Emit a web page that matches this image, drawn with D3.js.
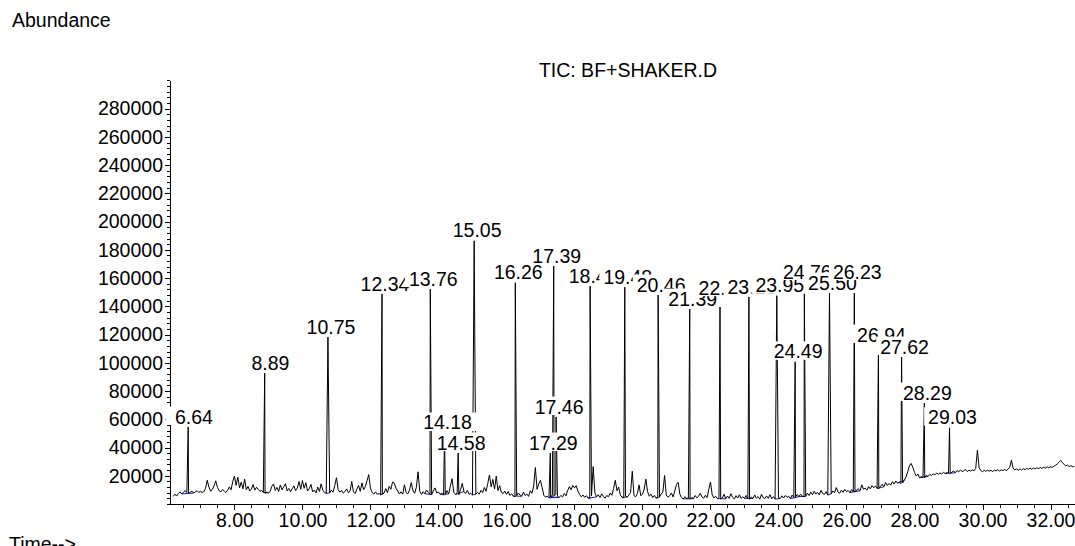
<!DOCTYPE html>
<html><head><meta charset="utf-8">
<script src="https://cdn.jsdelivr.net/npm/d3@7"></script>
<style>
html,body{margin:0;padding:0;background:#fff;}
svg{display:block;background:#fff;}
text{font-family:"Liberation Sans",Arial,sans-serif;fill:#000;}
</style></head><body>
<svg id="chart" width="1075" height="546"></svg>
<script>
// ---------------- data ----------------
const chartTitle = "TIC: BF+SHAKER.D";
const yAxisTitle = "Abundance";
const xAxisTitle = "Time-->";

// background signal (thousands of counts), sampled every 0.05 min from 6.20 min
const signalStart = 6.20;
const signalStep = 0.05;
const baselineSignal = [
  5.4,6.9,5.6,7.4,8.6,7.1,8.3,9.5,8.0,7.6,8.3,9.1,7.8,8.6,9.4,8.2,
  9.0,8.2,8.7,11.0,16.8,12.0,9.1,10.2,12.9,16.4,11.8,9.4,8.5,10.3,9.2,8.1,9.8,12.1,10.0,15.8,
  19.8,13.2,19.0,11.4,15.5,10.8,17.6,10.1,12.4,9.2,10.6,13.8,9.8,11.9,10.4,9.0,9.6,8.1,7.6,8.4,
  7.9,8.8,12.6,14.2,9.6,11.8,8.9,13.5,10.0,12.2,14.4,9.3,11.0,8.6,10.9,12.8,9.5,11.3,15.9,10.4,
  16.6,11.1,15.1,9.2,10.8,13.9,8.6,9.9,7.8,12.0,8.9,14.3,9.7,8.2,7.5,7.0,7.9,9.8,8.4,13.0,
  18.6,10.2,8.4,9.6,7.7,8.8,10.7,8.0,9.1,16.0,8.6,7.4,10.5,13.2,9.0,14.9,10.1,12.4,16.5,20.8,
  11.2,8.1,7.0,8.6,6.8,7.5,6.4,6.9,7.8,10.9,8.0,12.5,10.4,15.6,14.8,11.3,9.2,7.1,8.6,6.9,
  13.6,8.0,7.2,10.1,15.2,9.4,7.6,11.8,22.8,9.0,6.8,8.7,7.3,9.9,8.2,7.0,6.6,9.3,11.4,7.8,
  8.5,6.9,7.7,6.2,6.8,9.5,7.1,12.6,17.9,8.4,6.7,7.9,6.5,10.2,14.6,8.8,7.4,9.6,6.9,7.6,
  6.4,6.3,6.9,8.2,7.0,9.6,8.1,11.7,9.0,14.5,20.6,12.1,17.4,10.6,19.8,9.5,13.0,8.2,7.4,9.1,
  6.8,8.9,6.1,7.2,5.6,5.2,5.9,7.8,6.3,5.5,8.4,6.0,7.1,5.4,9.3,7.6,12.8,25.8,10.4,14.2,
  16.8,11.5,6.2,4.8,5.6,4.4,5.0,6.4,5.9,6.8,5.2,4.6,6.1,5.0,7.4,5.8,9.6,12.3,10.1,13.2,
  11.4,13.0,9.2,6.8,5.1,6.4,4.7,5.9,4.2,4.0,5.8,26.5,8.0,5.0,6.6,4.6,7.2,5.4,4.1,6.0,
  5.2,7.8,6.1,10.9,16.8,9.4,12.0,6.2,4.8,4.3,5.6,4.9,6.3,8.1,23.2,6.0,5.1,7.4,13.5,5.9,
  6.8,10.6,17.6,8.8,5.5,7.0,4.6,6.1,4.2,4.5,4.9,7.1,8.5,20.2,6.4,4.8,5.9,7.8,5.0,9.2,
  13.8,15.4,6.9,4.4,3.6,5.2,3.9,4.1,3.4,4.7,3.8,6.0,4.3,5.5,7.6,5.0,4.1,6.2,4.5,10.4,
  15.6,6.6,4.2,5.5,3.8,4.6,3.5,4.4,6.8,3.7,5.6,4.0,7.3,4.8,3.6,5.9,4.2,6.5,3.9,5.1,
  4.0,6.1,3.6,3.3,5.0,3.9,6.4,4.1,5.3,3.4,6.9,4.5,3.8,5.7,4.0,6.6,3.7,5.2,3.5,3.6,
  4.4,3.9,5.8,4.2,6.0,4.7,5.5,3.8,6.3,4.6,4.9,6.8,5.2,7.0,5.6,5.0,5.4,7.6,6.0,8.4,
  6.6,9.0,7.1,8.2,6.5,9.6,7.4,6.8,8.7,6.3,6.2,7.3,9.2,8.0,11.6,8.5,7.6,9.8,8.3,10.4,
  8.8,9.6,8.1,10.2,8.6,8.4,9.9,10.8,9.4,13.6,10.5,11.2,9.8,12.4,10.7,13.0,11.5,12.8,11.0,10.9,
  12.6,14.0,12.2,15.2,13.1,14.6,13.4,15.8,14.1,16.3,14.8,15.6,14.4,14.9,16.7,19.2,22.8,27.0,28.7,26.1,
  22.4,19.8,21.2,18.6,19.4,18.9,18.7,20.3,19.5,21.0,20.2,21.4,20.6,21.9,21.1,22.0,21.3,22.4,21.6,22.2,
  21.8,21.5,22.6,23.4,22.1,23.8,22.7,24.1,22.9,23.6,24.4,23.0,23.9,23.3,24.2,23.5,25.2,38.1,25.8,23.7,
  22.9,23.8,23.1,24.0,23.2,23.9,22.8,24.1,23.4,24.3,23.3,24.2,23.6,24.5,23.7,24.6,26.0,31.0,25.4,24.1,
  24.8,23.9,24.9,24.0,25.1,24.3,25.2,24.5,25.4,24.6,25.5,24.8,25.7,25.0,25.9,25.2,26.1,25.4,26.3,25.6,
  26.4,25.9,26.8,27.5,28.4,29.6,30.8,29.2,28.1,27.0,27.6,26.5,27.2,26.3,26.8
];

// labelled peaks: retention time (min) and apex abundance
const peakTimes = [6.64, 8.89, 10.75, 12.34, 13.76, 14.18, 14.58, 15.05, 16.26, 17.29, 17.39, 17.46,
  18.46, 19.48, 20.46, 21.39, 22.28, 23.13, 23.95, 24.49, 24.76, 25.50, 26.23, 26.94, 27.62, 28.29, 29.03];
const peakHeights = [54500, 92700, 118200, 148700, 152200, 50300, 36100, 186400, 156700, 36100, 168500, 61600,
  154300, 153600, 148000, 138100, 145800, 146600, 147500, 100700, 149400, 149400, 149400, 112600, 104100, 71500, 54000];
// labels that the data system lifted above their neighbours
const raisedLabels = [24.76, 26.23];

const yTickValues = [20000,40000,60000,80000,100000,120000,140000,160000,180000,200000,220000,240000,260000,280000];
const xTickValues = [8,10,12,14,16,18,20,22,24,26,28,30,32];

// ---------------- chart ----------------
const W = 1075, H = 546;
const svg = d3.select("#chart");
const FS = 19.5;

const x = d3.scaleLinear().domain([6.105, 32.72]).range([170, 1075]);
const y = d3.scaleLinear().domain([0, 300000]).range([504, 80.4]);

const signal = baselineSignal.map((v, i) => ({t: +(signalStart + i * signalStep).toFixed(2), v: v * 1000}));
const peaks = peakTimes.map((t, i) => ({t, v: peakHeights[i]}));
const points = signal.filter(p => !peaks.some(k => Math.abs(k.t - p.t) < 0.005))
  .concat(peaks).sort((a, b) => a.t - b.t);

// texts
svg.append("text").attr("x", 12).attr("y", 27).style("font-size", FS + "px").text(yAxisTitle);
svg.append("text").attr("x", 628).attr("y", 77).attr("text-anchor", "middle").style("font-size", FS + "px").text(chartTitle);
svg.append("text").attr("x", 9).attr("y", 551).style("font-size", FS + "px").text(xAxisTitle);

// y axis
const yMinor = svg.append("g").attr("transform", "translate(170,0)")
  .call(d3.axisLeft(y).tickValues(d3.range(0, 300001, 4000)).tickSize(3).tickSizeOuter(0).tickFormat(""));
yMinor.select(".domain").remove();
const yAx = svg.append("g").attr("transform", "translate(170,0)")
  .call(d3.axisLeft(y).tickValues(yTickValues).tickSize(5).tickSizeOuter(0).tickPadding(2).tickFormat(d3.format("d")));
yAx.selectAll("text").style("font-size", FS + "px").style("font-family", '"Liberation Sans",Arial,sans-serif');

// x axis
const xMinor = svg.append("g").attr("transform", "translate(0,504)")
  .call(d3.axisBottom(x).tickValues(d3.range(6.5, 32.71, 0.5)).tickSize(4).tickSizeOuter(0).tickFormat(""));
xMinor.select(".domain").remove();
const xAx = svg.append("g").attr("transform", "translate(0,504)")
  .call(d3.axisBottom(x).tickValues(xTickValues).tickSize(6).tickSizeOuter(0).tickPadding(3).tickFormat(d3.format(".2f")));
xAx.selectAll("text").style("font-size", FS + "px").style("font-family", '"Liberation Sans",Arial,sans-serif');
svg.selectAll(".domain, .tick line").attr("stroke", "#000").attr("shape-rendering", "crispEdges");

// integration baselines (blue)
const blue = svg.append("g");
peaks.forEach(pk => {
  const left = signal.filter(p => p.t >= pk.t - 0.2 && p.t <= pk.t - 0.04);
  const right = signal.filter(p => p.t >= pk.t + 0.04 && p.t <= pk.t + 0.2);
  const a = d3.least(left, p => p.v), b = d3.least(right, p => p.v);
  if (a && b) {
    blue.append("line").attr("x1", x(a.t)).attr("y1", y(a.v)).attr("x2", x(b.t)).attr("y2", y(b.v))
      .attr("stroke", "#1a1aa8").attr("stroke-width", 1);
  }
});

// signal trace
svg.append("path").datum(points)
  .attr("fill", "none").attr("stroke", "#000").attr("stroke-width", 1)
  .attr("stroke-linejoin", "round")
  .attr("d", d3.line().x(d => x(d.t)).y(d => y(d.v)));

// peak labels with opaque boxes
const fmt = d3.format("5.2f");
const pad = 4;
peaks.forEach(pk => {
  const lift = raisedLabels.includes(pk.t) ? 11 : 0;
  const cx = x(pk.t) + 3;
  const by = y(pk.v) - 3.5 - lift;
  const g = svg.append("g");
  const r = g.append("rect").attr("fill", "#fff");
  const t = g.append("text").attr("x", cx).attr("y", by).attr("text-anchor", "middle")
    .style("font-size", FS + "px").style("white-space", "pre").text(fmt(pk.t));
  const bb = t.node().getBBox();
  r.attr("x", bb.x - pad).attr("width", bb.width + 2 * pad)
   .attr("y", by - 17).attr("height", 18.5);
});
</script>
</body></html>
